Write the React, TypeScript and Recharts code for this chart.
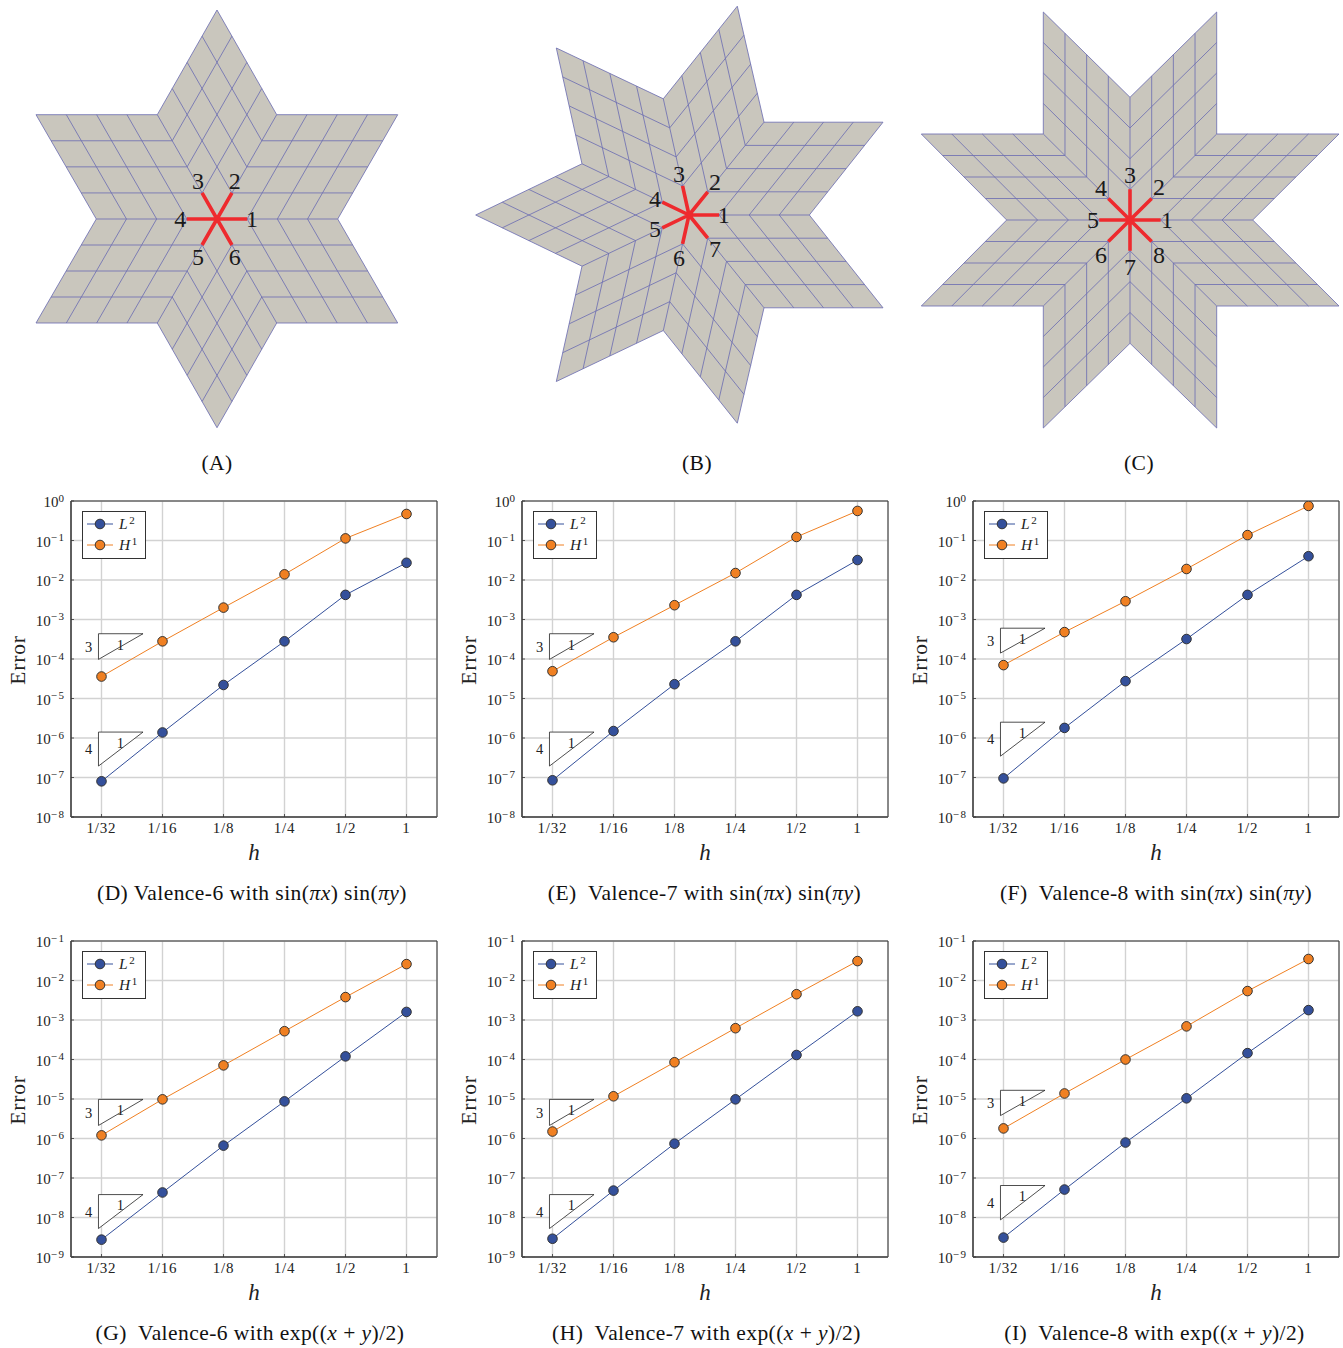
import type { ReactNode } from "react";
import {
  CartesianGrid,
  Legend,
  Line,
  LineChart,
  ReferenceArea,
  ReferenceDot,
  XAxis,
  YAxis,
} from "recharts";

const SERIF = '"Liberation Serif", "Times New Roman", serif';

const hValues = [1 / 32, 1 / 16, 1 / 8, 1 / 4, 1 / 2, 1];
const hTickLabels = ["1/32", "1/16", "1/8", "1/4", "1/2", "1"];
const hDomain = [0.0221, 1.4142];

const yTicksSin = [1e-8, 1e-7, 1e-6, 1e-5, 1e-4, 1e-3, 1e-2, 1e-1, 1];
const yTicksExp = [1e-9, 1e-8, 1e-7, 1e-6, 1e-5, 1e-4, 1e-3, 1e-2, 1e-1];

const l2D = [8.0e-8, 1.38e-6, 2.2e-5, 2.8e-4, 4.2e-3, 0.0273];
const h1D = [3.6e-5, 2.8e-4, 2.0e-3, 0.0139, 0.113, 0.469];
const l2E = [8.5e-8, 1.5e-6, 2.3e-5, 2.8e-4, 4.2e-3, 0.032];
const h1E = [4.9e-5, 3.55e-4, 2.3e-3, 0.015, 0.123, 0.56];
const l2F = [9.5e-8, 1.8e-6, 2.75e-5, 3.2e-4, 4.2e-3, 0.04];
const h1F = [7e-5, 4.8e-4, 2.9e-3, 0.019, 0.137, 0.75];
const l2G = [2.75e-9, 4.3e-8, 6.6e-7, 8.7e-6, 1.2e-4, 1.6e-3];
const h1G = [1.2e-6, 9.8e-6, 7.1e-5, 5.2e-4, 3.8e-3, 0.026];
const l2H = [2.9e-9, 4.8e-8, 7.4e-7, 9.8e-6, 1.3e-4, 1.66e-3];
const h1H = [1.5e-6, 1.17e-5, 8.5e-5, 6.2e-4, 4.5e-3, 0.031];
const l2I = [3.1e-9, 5.1e-8, 7.9e-7, 1.04e-5, 1.45e-4, 1.78e-3];
const h1I = [1.8e-6, 1.38e-5, 1.0e-4, 6.9e-4, 5.4e-3, 0.035];

// rate triangles, as log10 of [top, bottom]
const slopeUpperD = [-3.36, -4.01];
const slopeLowerD = [-5.85, -6.71];
const slopeUpperF = [-3.22, -3.85];
const slopeLowerF = [-5.6, -6.46];
const slopeUpperG = [-5.01, -5.67];
const slopeLowerG = [-7.42, -8.28];
const slopeUpperI = [-4.78, -5.42];
const slopeLowerI = [-7.19, -8.06];
const slopeHRange = [0.0302, 0.0501];

// star outlines: notch, tip, notch, ... around the centre
const outlineA = [
  [120.7, 0], [180.7, 104.3], [59.7, 104.3], [0, 209], [-59.7, 104.3], [-181, 104.3],
  [-120.7, 0], [-181, -104], [-59.7, -104], [0, -208.7], [59.7, -104], [180.7, -104],
];
const outlineB = [
  [120.3, 0], [194, 92.8], [75, 92.8], [48.3, 208.8], [-25.7, 116.2], [-132.7, 167],
  [-107, 51.2], [-213.3, 0], [-107, -51.2], [-132.7, -166.5], [-25.7, -115.5],
  [48.3, -208.2], [75, -92.8], [194, -92.8],
];
const outlineC = [
  [122.7, 0], [209, 86], [86.7, 86], [86.7, 208], [0, 122.7], [-86.7, 208],
  [-86.7, 86], [-208.7, 86], [-123.3, 0], [-208.7, -86], [-86.7, -86], [-86.7, -208],
  [0, -123.3], [86.7, -208], [86.7, -86], [209, -86],
];

const spokeLabelsA = [[35, 1], [17.7, 38.7], [-19, 38.7], [-36.7, 1], [-19, -37], [17.7, -37]];
const spokeLabelsB = [[34.7, 1], [26, 34], [-10, 42], [-34, 17], [-34, -13], [-10, -42], [26, -33]];
const spokeLabelsC = [[37, 1], [29, 34], [0, 46], [-29, 33], [-37, 1], [-29, -34], [0, -46], [29, -34]];

const MESH_DIVISIONS = 4;

type Row = { x: number; y: number | null };

function lerp(a: number[], b: number[], t: number) {
  return [a[0] + (b[0] - a[0]) * t, a[1] + (b[1] - a[1]) * t];
}

// each patch is a uniform 4x4 grid between its four corners
function buildMesh(outline: number[][]) {
  const rows: Row[] = [];
  const push = (a: number[], b: number[]) => {
    rows.push({ x: a[0], y: a[1] }, { x: b[0], y: b[1] }, { x: b[0], y: null });
  };
  const centre = [0, 0];
  for (let k = 0; k < outline.length; k += 2) {
    const n1 = outline[k];
    const tip = outline[k + 1];
    const n2 = outline[(k + 2) % outline.length];
    push(centre, n1);
    push(n1, tip);
    push(tip, n2);
    for (let i = 1; i < MESH_DIVISIONS; i++) {
      const t = i / MESH_DIVISIONS;
      push(lerp(centre, n1, t), lerp(n2, tip, t));
      push(lerp(centre, n2, t), lerp(n1, tip, t));
    }
  }
  return rows;
}

function buildSpokes(outline: number[][]) {
  const rows: Row[] = [];
  for (let k = 0; k < outline.length; k += 2) {
    const end = lerp([0, 0], outline[k], 1 / MESH_DIVISIONS);
    rows.push({ x: 0, y: 0 }, { x: end[0], y: end[1] }, { x: end[0], y: null });
  }
  return rows;
}

const STAR_W = 460;
const STAR_H = 450;

function StarPanel({
  cx,
  cy,
  outline,
  labels,
}: {
  cx: number;
  cy: number;
  outline: number[][];
  labels: number[][];
}) {
  const fillShape = (props: any) => {
    const px = (v: number) => props.x + ((v + STAR_W / 2) / STAR_W) * props.width;
    const py = (v: number) => props.y + ((STAR_H / 2 - v) / STAR_H) * props.height;
    return (
      <polygon
        points={outline.map((p) => `${px(p[0])},${py(p[1])}`).join(" ")}
        fill="#c9c6bd"
        stroke="none"
      />
    );
  };
  return (
    <div style={{ position: "absolute", left: cx - STAR_W / 2, top: cy - STAR_H / 2 }}>
      <LineChart width={STAR_W} height={STAR_H} margin={{ top: 0, right: 0, bottom: 0, left: 0 }}>
        <XAxis type="number" dataKey="x" domain={[-STAR_W / 2, STAR_W / 2]} hide allowDataOverflow />
        <YAxis type="number" dataKey="y" domain={[-STAR_H / 2, STAR_H / 2]} hide allowDataOverflow />
        <ReferenceArea
          x1={-STAR_W / 2}
          x2={STAR_W / 2}
          y1={-STAR_H / 2}
          y2={STAR_H / 2}
          shape={fillShape}
        />
        <Line
          data={buildMesh(outline)}
          dataKey="y"
          stroke="#6f70b2"
          strokeWidth={0.85}
          dot={false}
          activeDot={false}
          isAnimationActive={false}
        />
        <Line
          data={buildSpokes(outline)}
          dataKey="y"
          stroke="#ee2a2e"
          strokeWidth={3.6}
          dot={false}
          activeDot={false}
          isAnimationActive={false}
        />
        {labels.map((p, i) => (
          <ReferenceDot
            key={i}
            x={p[0]}
            y={p[1]}
            r={0}
            stroke="none"
            label={{
              value: String(i + 1),
              position: "center",
              fontSize: 24,
              fontFamily: SERIF,
              fill: "#1a1a1a",
            }}
          />
        ))}
      </LineChart>
    </div>
  );
}

const triangleShape = (props: any) => (
  <polygon
    points={`${props.x},${props.y} ${props.x + props.width},${props.y} ${props.x},${props.y + props.height}`}
    fill="#ffffff"
    stroke="#222"
    strokeWidth={0.8}
  />
);

function XTick({ x, y, payload }: any) {
  const label = hTickLabels[hValues.findIndex((h) => Math.abs(h - payload.value) < 1e-9)];
  return (
    <g>
      <line x1={x} x2={x} y1={y} y2={y - 3} stroke="#333" strokeWidth={0.8} />
      <text
        x={x}
        y={y + 16}
        textAnchor="middle"
        fontFamily={SERIF}
        fontSize={15}
        letterSpacing={0.8}
        fill="#222"
      >
        {label}
      </text>
    </g>
  );
}

function YTick({ x, y, payload }: any) {
  const exponent = Math.round(Math.log10(payload.value));
  return (
    <g>
      <line x1={x} x2={x + 3} y1={y} y2={y} stroke="#333" strokeWidth={0.8} />
      <text x={x - 5.5} y={y + 6} textAnchor="end" fontFamily={SERIF} fontSize={15} fill="#222">
        <tspan>10</tspan>
        <tspan dy={-5.5} fontSize={11} letterSpacing={1.5}>
          {exponent < 0 ? `\u2212${-exponent}` : exponent}
        </tspan>
      </text>
    </g>
  );
}

function ErrorNorms({ payload }: any) {
  return (
    <svg width={64} height={48} style={{ display: "block" }}>
      <rect x={0.5} y={0.5} width={63} height={47} fill="#fff" stroke="#333" strokeWidth={1} />
      {(payload ?? []).map((entry: any, i: number) => {
        const y = 13 + i * 21;
        return (
          <g key={entry.value}>
            <line x1={5} x2={31} y1={y} y2={y} stroke={entry.color} strokeWidth={1} />
            <circle cx={18} cy={y} r={4.8} fill={entry.color} stroke="#333" strokeWidth={1} />
            <text x={37} y={y + 5} fontFamily={SERIF} fontSize={15.5} fill="#222">
              <tspan fontStyle="italic">{entry.value[0]}</tspan>
              <tspan dy={-5} dx={1.5} fontSize={11}>
                {entry.value[1]}
              </tspan>
            </text>
          </g>
        );
      })}
    </svg>
  );
}

const PLOT_W = 366;
const PLOT_H = 316;
const MARGIN_TOP = 12;

function ConvergencePanel({
  left,
  top,
  l2,
  h1,
  yTicks,
  slopeUpper,
  slopeLower,
}: {
  left: number;
  top: number;
  l2: number[];
  h1: number[];
  yTicks: number[];
  slopeUpper: number[];
  slopeLower: number[];
}) {
  const rows = hValues.map((h, i) => ({ h, l2: l2[i], h1: h1[i] }));
  const yDomain = [yTicks[0], yTicks[yTicks.length - 1]];
  const slopes = [
    { rate: "3", range: slopeUpper },
    { rate: "4", range: slopeLower },
  ];
  const smallLabel = (value: string) => ({
    value,
    position: "center" as const,
    fontSize: 14.5,
    fontFamily: SERIF,
    fill: "#222",
  });
  return (
    <div style={{ position: "absolute", left: left - 70, top: top - MARGIN_TOP }}>
      <LineChart
        width={70 + PLOT_W + 4}
        height={MARGIN_TOP + PLOT_H + 50}
        data={rows}
        margin={{ top: MARGIN_TOP, right: 4, bottom: 0, left: 0 }}
      >
        <CartesianGrid stroke="#d2d2d2" strokeWidth={1.4} />
        <XAxis
          type="number"
          dataKey="h"
          scale="log"
          domain={hDomain}
          allowDataOverflow
          ticks={hValues}
          interval={0}
          height={50}
          tickSize={0}
          tickMargin={0}
          tickLine={false}
          axisLine={{ stroke: "#555", strokeWidth: 1.6 }}
          tick={<XTick />}
          label={(p: any) => (
            <text
              x={p.viewBox.x + p.viewBox.width / 2}
              y={p.viewBox.y + 43}
              textAnchor="middle"
              fontFamily={SERIF}
              fontStyle="italic"
              fontSize={23}
              fill="#222"
            >
              h
            </text>
          )}
        />
        <YAxis
          type="number"
          scale="log"
          domain={yDomain}
          allowDataOverflow
          ticks={yTicks}
          interval={0}
          width={70}
          tickSize={0}
          tickMargin={0}
          tickLine={false}
          axisLine={{ stroke: "#555", strokeWidth: 1.6 }}
          tick={<YTick />}
          label={(p: any) => {
            const x = p.viewBox.x + 24;
            const y = p.viewBox.y + p.viewBox.height / 2 + 1;
            return (
              <text
                x={x}
                y={y}
                transform={`rotate(-90 ${x} ${y})`}
                textAnchor="middle"
                fontFamily={SERIF}
                fontSize={21.5}
                letterSpacing={0.8}
                fill="#222"
              >
                Error
              </text>
            );
          }}
        />
        <ReferenceArea
          x1={hDomain[0]}
          x2={hDomain[1]}
          y1={yDomain[0]}
          y2={yDomain[1]}
          fill="none"
          fillOpacity={0}
          stroke="#333"
          strokeWidth={1}
        />
        {slopes.map((s) => (
          <ReferenceArea
            key={s.rate}
            x1={slopeHRange[0]}
            x2={slopeHRange[1]}
            y1={10 ** s.range[1]}
            y2={10 ** s.range[0]}
            shape={triangleShape}
          />
        ))}
        {slopes.map((s) => (
          <ReferenceDot
            key={s.rate}
            x={0.027}
            y={10 ** ((s.range[0] + s.range[1]) / 2)}
            r={0}
            stroke="none"
            label={smallLabel(s.rate)}
          />
        ))}
        {slopes.map((s) => (
          <ReferenceDot
            key={s.rate}
            x={0.0387}
            y={10 ** (s.range[0] - 0.27)}
            r={0}
            stroke="none"
            label={smallLabel("1")}
          />
        ))}
        <Line
          dataKey="l2"
          name="L2"
          stroke="#34509b"
          strokeWidth={1}
          dot={{ r: 4.8, fill: "#34509b", stroke: "#333", strokeWidth: 1, fillOpacity: 1 }}
          activeDot={false}
          isAnimationActive={false}
        />
        <Line
          dataKey="h1"
          name="H1"
          stroke="#f08022"
          strokeWidth={1}
          dot={{ r: 4.8, fill: "#f08022", stroke: "#333", strokeWidth: 1, fillOpacity: 1 }}
          activeDot={false}
          isAnimationActive={false}
        />
        <Legend
          layout="vertical"
          align="center"
          verticalAlign="middle"
          itemSorter={null}
          content={<ErrorNorms />}
          wrapperStyle={{ left: 81, top: MARGIN_TOP + 10, width: 64, height: 48, margin: 0 }}
        />
      </LineChart>
    </div>
  );
}

function Caption({ x, y, children }: { x: number; y: number; children: ReactNode }) {
  return (
    <div
      style={{
        position: "absolute",
        left: x - 220,
        top: y - 13,
        width: 440,
        textAlign: "center",
        fontFamily: SERIF,
        fontSize: 21.5,
        letterSpacing: 0.45,
        lineHeight: "26px",
        color: "#111",
        whiteSpace: "pre",
      }}
    >
      {children}
    </div>
  );
}

const SinExpr = () => (
  <>
    sin(<i>πx</i>) sin(<i>πy</i>)
  </>
);
const ExpExpr = () => (
  <>
    exp((<i>x</i> + <i>y</i>)/2)
  </>
);

export default function App() {
  return (
    <div
      style={{
        position: "absolute",
        left: 0,
        top: 0,
        width: 1343,
        height: 1348,
        overflow: "hidden",
        background: "#fff",
      }}
    >
      <StarPanel cx={216.7} cy={219.3} outline={outlineA} labels={spokeLabelsA} />
      <StarPanel cx={688.7} cy={214.5} outline={outlineB} labels={spokeLabelsB} />
      <StarPanel cx={1129.7} cy={220} outline={outlineC} labels={spokeLabelsC} />
      <Caption x={217} y={463}>(A)</Caption>
      <Caption x={697} y={463}>(B)</Caption>
      <Caption x={1139} y={463}>(C)</Caption>

      <ConvergencePanel left={71} top={501} l2={l2D} h1={h1D} yTicks={yTicksSin} slopeUpper={slopeUpperD} slopeLower={slopeLowerD} />
      <ConvergencePanel left={522} top={501} l2={l2E} h1={h1E} yTicks={yTicksSin} slopeUpper={slopeUpperD} slopeLower={slopeLowerD} />
      <ConvergencePanel left={973} top={501} l2={l2F} h1={h1F} yTicks={yTicksSin} slopeUpper={slopeUpperF} slopeLower={slopeLowerF} />
      <Caption x={252} y={893}>(D) Valence-6 with <SinExpr /></Caption>
      <Caption x={704.5} y={893}>{"(E)  Valence-7 with "}<SinExpr /></Caption>
      <Caption x={1156} y={893}>{"(F)  Valence-8 with "}<SinExpr /></Caption>

      <ConvergencePanel left={71} top={941} l2={l2G} h1={h1G} yTicks={yTicksExp} slopeUpper={slopeUpperG} slopeLower={slopeLowerG} />
      <ConvergencePanel left={522} top={941} l2={l2H} h1={h1H} yTicks={yTicksExp} slopeUpper={slopeUpperG} slopeLower={slopeLowerG} />
      <ConvergencePanel left={973} top={941} l2={l2I} h1={h1I} yTicks={yTicksExp} slopeUpper={slopeUpperI} slopeLower={slopeLowerI} />
      <Caption x={250} y={1333}>{"(G)  Valence-6 with "}<ExpExpr /></Caption>
      <Caption x={706.5} y={1333}>{"(H)  Valence-7 with "}<ExpExpr /></Caption>
      <Caption x={1154.5} y={1333}>{"(I)  Valence-8 with "}<ExpExpr /></Caption>
    </div>
  );
}
